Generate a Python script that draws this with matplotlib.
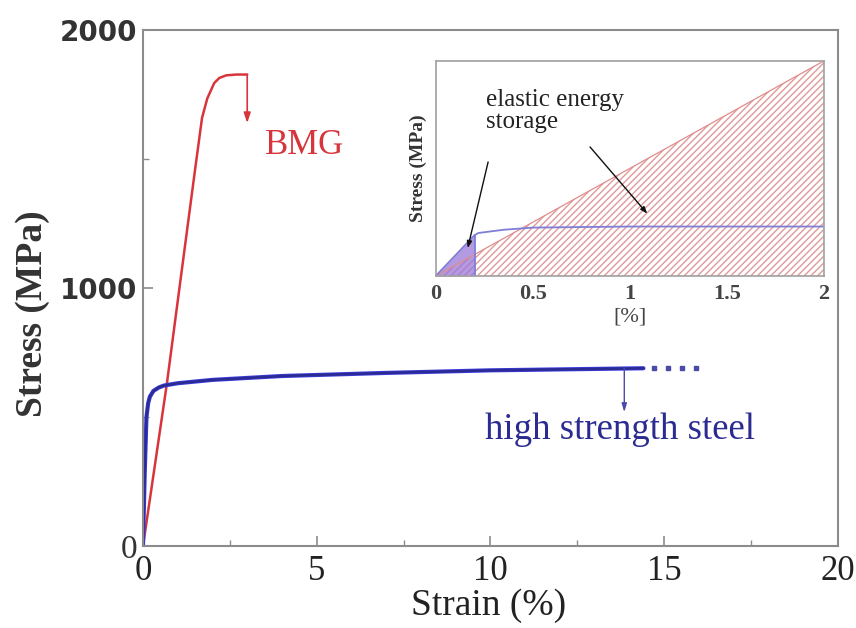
import matplotlib
matplotlib.use("Agg")
import matplotlib.pyplot as plt
import numpy as np

# ---- data ----
bmg_strain = [0, 0.69, 1.0, 1.5, 1.7, 1.85, 1.95, 2.05, 2.2, 2.4, 2.7, 3.0]
bmg_stress = [0, 632, 950, 1460, 1660, 1735, 1765, 1795, 1815, 1825, 1828, 1828]

steel_strain = [0, 0.05, 0.1, 0.15, 0.2, 0.3, 0.45, 0.6, 1.0, 2.0, 4.0, 7.0, 10.0, 14.4]
steel_stress = [0, 280, 500, 555, 580, 602, 615, 623, 632, 645, 660, 672, 682, 690]
steel_dots_x = [14.7, 15.1, 15.5, 15.9]

x_ticks = [0, 5, 10, 15, 20]
y_ticks = [0, 1000, 2000]

inset_red_x = [0, 2]
inset_red_y = [0, 1]
inset_blue_x = [0, 0.2, 0.22, 0.35, 0.5, 1.0, 2.0]
inset_blue_y = [0, 0.19, 0.20, 0.215, 0.225, 0.23, 0.23]
inset_fill_x = [0, 0.2]
inset_fill_y = [0, 0.19]
inset_ticks = [0, 0.5, 1, 1.5, 2]
inset_ticklabels = ["0", "0.5", "1", "1.5", "2"]

SERIF = ["Liberation Serif", "DejaVu Serif"]
SPINE = "#8c8c8c"
RED = "#d8343c"
NAVY = "#2b2b92"

fig = plt.figure(figsize=(8.56, 6.28), dpi=100)
ax = fig.add_axes([0.167, 0.130, 0.812, 0.822])

ax.plot(bmg_strain, bmg_stress, color=RED, lw=1.8, solid_capstyle="round")
ax.plot(steel_strain, steel_stress, color="#3a3ae0", lw=3.0, solid_capstyle="round")
ax.plot(steel_strain, steel_stress, color=NAVY, lw=1.8, solid_capstyle="round")
ax.plot(steel_dots_x, [steel_stress[-1]] * len(steel_dots_x), ls="none",
        marker="s", ms=2.5, color="#4a4aa8")

ax.set_xlim(0, 20)
ax.set_ylim(0, 2000)
ax.set_xticks(x_ticks)
ax.set_yticks(y_ticks)
ax.set_xticks([2.5, 7.5, 12.5, 17.5], minor=True)
ax.set_yticks([500, 1500], minor=True)
ax.tick_params(which="both", direction="in", color=SPINE)
ax.tick_params(which="major", length=7, width=1.2)
ax.tick_params(which="minor", length=4, width=1.0)
for s in ax.spines.values():
    s.set_color(SPINE)
    s.set_linewidth(1.5)

ax.set_xticklabels([str(t) for t in x_ticks], fontfamily=SERIF, fontsize=25, color="#222222")
ylabels = ax.set_yticklabels([str(t) for t in y_ticks])
for i, lab in enumerate(ylabels):
    if y_ticks[i] == 0:
        lab.set_fontfamily(SERIF)
        lab.set_fontsize(24)
    else:
        lab.set_fontfamily("DejaVu Sans")
        lab.set_fontweight("bold")
        lab.set_fontsize(20)
    lab.set_color("#333333")
ax.tick_params(axis="x", pad=6)
ax.tick_params(axis="y", pad=4)

ax.set_xlabel("Strain (%)", fontfamily=SERIF, fontsize=27, color="#222222")
ax.xaxis.set_label_coords(0.497, -0.082)
ax.set_ylabel("Stress (MPa)", fontfamily=SERIF, fontweight="bold",
              fontsize=27, color="#333333")
ax.yaxis.set_label_coords(-0.134, 0.45)

# annotations main
ax.annotate("", xy=(3.0, 1640), xytext=(3.0, 1828),
            arrowprops=dict(arrowstyle="-|>,head_length=0.6,head_width=0.2",
                            color=RED, lw=1.2, shrinkA=0, shrinkB=0))
ax.text(3.5, 1555, "BMG", color=RED, fontfamily=SERIF, fontsize=25, va="center", ha="left")
ax.annotate("", xy=(13.85, 520), xytext=(13.85, 690),
            arrowprops=dict(arrowstyle="-|>,head_length=0.5,head_width=0.15",
                            color="#4a4aa8", lw=1.0, shrinkA=0, shrinkB=0))
ax.text(9.84, 452, "high strength steel", color=NAVY, fontfamily=SERIF,
        fontsize=26.5, va="center", ha="left")

# ---- inset ----
ins = fig.add_axes([0.509, 0.5605, 0.4535, 0.3425])
ins.fill_between(inset_red_x, inset_red_y, 0, facecolor="none", edgecolor="#e09a9a",
                 hatch="/////", lw=0)
ins.plot(inset_red_x, inset_red_y, color="#e08c8c", lw=0.9)
ins.fill_between(inset_fill_x, inset_fill_y, 0, color="#9a78d8", alpha=0.75, lw=0)
ins.plot(inset_blue_x, inset_blue_y, color="#7e7ed8", lw=1.3)
ins.plot([inset_fill_x[-1], inset_fill_x[-1]], [0, inset_fill_y[-1]], color="#7e7ed8", lw=1.3)

ins.set_xlim(0, 2)
ins.set_ylim(0, 1)
ins.set_xticks(inset_ticks)
ins.set_xticklabels(inset_ticklabels, fontfamily=SERIF, fontsize=16,
                    fontweight="bold", color="#444444")
ins.set_yticks([])
ins.tick_params(axis="x", direction="in", length=0, pad=6)
for s in ins.spines.values():
    s.set_color("#a0a0a0")
    s.set_linewidth(1.2)
ins.set_xlabel("[%]", fontfamily=SERIF, fontsize=16, color="#444444", labelpad=2)
ins.set_ylabel("Stress (MPa)", fontfamily=SERIF, fontweight="bold", fontsize=14,
               color="#333333", labelpad=6)

ins.text(0.26, 0.87, "elastic energy\nstorage", fontfamily=SERIF, fontsize=18,
         color="#222222", va="top", ha="left", linespacing=1.0)
ins.annotate("", xy=(0.165, 0.13), xytext=(0.27, 0.53),
             arrowprops=dict(arrowstyle="-|>,head_length=0.4,head_width=0.15",
                             color="#111111", lw=1.0, shrinkA=0, shrinkB=0))
ins.annotate("", xy=(1.09, 0.29), xytext=(0.795, 0.60),
             arrowprops=dict(arrowstyle="-|>,head_length=0.4,head_width=0.15",
                             color="#111111", lw=1.0, shrinkA=0, shrinkB=0))

fig.savefig("out.png", dpi=100)
